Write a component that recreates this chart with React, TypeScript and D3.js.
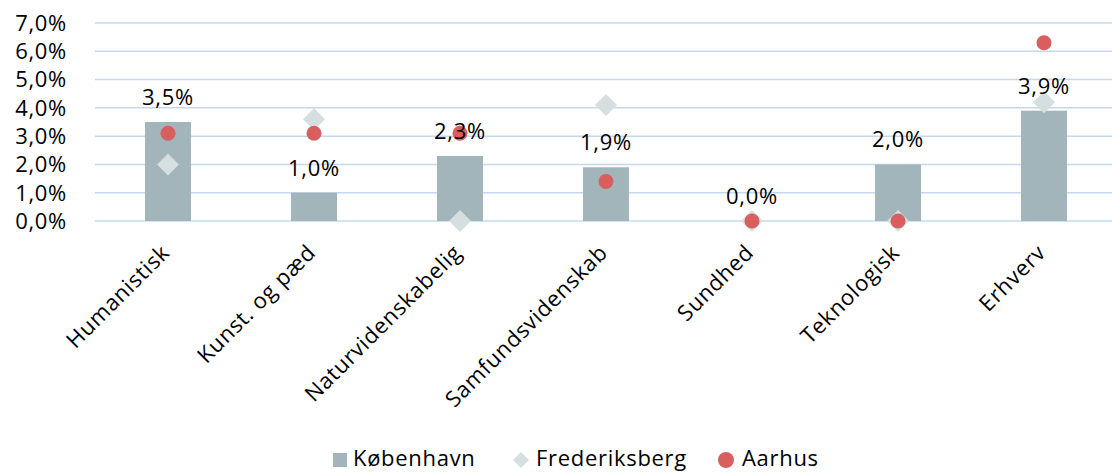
import React, { useEffect } from "react";
import * as d3 from "d3";

const categories = ["Humanistisk", "Kunst. og pæd", "Naturvidenskabelig", "Samfundsvidenskab", "Sundhed", "Teknologisk", "Erhverv"];
const kobenhavn = [0.035, 0.010, 0.023, 0.019, 0.000, 0.020, 0.039];
const frederiksberg = [0.020, 0.036, 0.000, 0.041, 0.000, 0.000, 0.042];
const aarhus = [0.031, 0.031, 0.031, 0.014, 0.000, 0.000, 0.063];
const yTicks = [0, 0.01, 0.02, 0.03, 0.04, 0.05, 0.06, 0.07];
const seriesNames = ["København", "Frederiksberg", "Aarhus"];

const W = 1112, H = 473;
const FONT = "'Open Sans', sans-serif";
const FS = 22;
const LS = 0.7;
const C_BAR = "#A1B5BB", C_DIA = "#D5DFDF", C_DOT = "#D95F5F", C_GRID = "#C5D8F0";

const fmt = (v: number) => (v * 100).toFixed(1).replace(".", ",") + "%";

export default function App() {
  useEffect(() => {
    document.body.style.margin = "0";
    document.body.style.overflow = "hidden";
  }, []);
  const x = d3.scaleBand<string>().domain(categories).range([95, 1117]).paddingInner(0.685).paddingOuter(0.3425);
  const y = d3.scaleLinear().domain([0, 0.07]).range([221, 23]);
  const cx = (c: string) => (x(c) as number) + x.bandwidth() / 2;
  const diamond = (px: number, py: number, r: number) => `M${px},${py - r}L${px + r},${py}L${px},${py + r}L${px - r},${py}Z`;
  return (
    <svg width={W} height={H} style={{ display: "block", background: "#fff" }} fontFamily={FONT} letterSpacing={LS}>
      {yTicks.map((t) => (
        <g key={t}>
          <line x1={95} x2={1117} y1={y(t)} y2={y(t)} stroke={C_GRID} strokeWidth={1.5} />
          <text x={67} y={y(t)} dy="0.36em" textAnchor="end" fontSize={FS} fill="#000">{fmt(t)}</text>
        </g>
      ))}
      {categories.map((c, i) => (
        <rect key={c} x={x(c)} y={y(kobenhavn[i])} width={x.bandwidth()} height={y(0) - y(kobenhavn[i])} fill={C_BAR} />
      ))}
      {categories.map((c, i) => (
        <path key={c} d={diamond(cx(c), y(frederiksberg[i]), 11)} fill={C_DIA} />
      ))}
      {categories.map((c, i) => (
        <circle key={c} cx={cx(c)} cy={y(aarhus[i])} r={7.5} fill={C_DOT} />
      ))}
      {categories.map((c, i) => (
        <text key={c} x={cx(c)} y={y(kobenhavn[i]) - 17} textAnchor="middle" fontSize={FS} fill="#000">{fmt(kobenhavn[i])}</text>
      ))}
      {categories.map((c) => (
        <text key={c} transform={`translate(${cx(c) + 3},${254}) rotate(-45)`} textAnchor="end" fontSize={FS} fill="#000">{c}</text>
      ))}
      <g fontSize={FS} fill="#000">
        <rect x={333} y={453} width={14} height={14} fill={C_BAR} />
        <text x={353} y={466}>{seriesNames[0]}</text>
        <path d={diamond(521, 460, 8)} fill={C_DIA} />
        <text x={536} y={466}>{seriesNames[1]}</text>
        <circle cx={726} cy={460} r={8} fill={C_DOT} />
        <text x={742} y={466}>{seriesNames[2]}</text>
      </g>
    </svg>
  );
}
